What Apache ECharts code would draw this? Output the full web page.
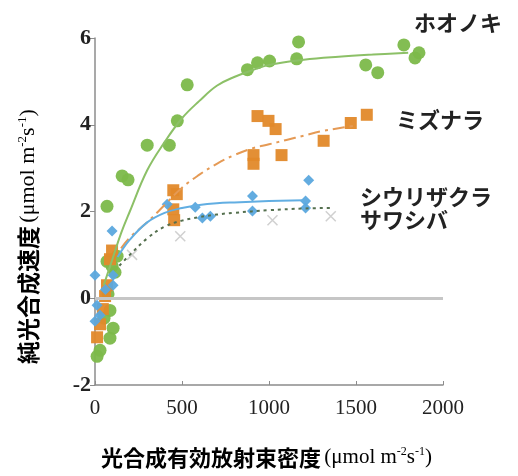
<!DOCTYPE html>
<html>
<head>
<meta charset="utf-8">
<script src="https://cdn.jsdelivr.net/npm/echarts@6/dist/echarts.min.js"></script>
<style>
html,body{margin:0;padding:0;background:#fff;}
#chart{width:518px;height:476px;}
</style>
</head>
<body>
<div id="chart"></div>
<script>
// ---- data ----
const xTicks = [0, 500, 1000, 1500, 2000];
const yTicks = [-2, 0, 2, 4, 6];
const speciesNames = ['ホオノキ', 'ミズナラ', 'シウリザクラ', 'サワシバ'];

// ホオノキ (green circles)
const hoonokiX = [69,156,190,300,427,473,530,876,934,1003,1170,1159,1556,1625,1775,1839,1862,69,127,98,115,86,104,86,29,12,52,75];
const hoonokiY = [2.12,2.82,2.73,3.53,3.53,4.09,4.92,5.27,5.43,5.47,5.91,5.52,5.38,5.2,5.84,5.54,5.66,0.85,0.97,0.74,0.6,-0.28,-0.69,-0.92,-1.2,-1.34,-0.46,0.1];
// ミズナラ (orange squares)
const mizunaraX = [12,29,45,58,69,86,98,450,470,450,455,934,997,1038,911,911,1072,1314,1470,1562];
const mizunaraY = [-0.9,-0.6,-0.25,0.05,0.3,0.9,1.1,2.49,2.4,2.05,1.8,4.2,4.09,3.9,3.3,3.1,3.3,3.63,4.04,4.23];
// シウリザクラ (blue diamonds)
const shiuriX = [98,0,104,104,29,0,12,60,415,576,617,663,905,905,1210,1210,1228];
const shiuriY = [1.55,0.53,0.53,0.3,-0.39,-0.53,-0.16,0.2,2.17,2.1,1.85,1.89,2.36,2.01,2.24,2.08,2.72];
// サワシバ (gray crosses)
const sawashibaX = [213,490,1020,1355];
const sawashibaY = [1.0,1.43,1.8,1.89];

// fitted curves
const hoonokiCurveX = [50,100,150,200,300,400,500,600,700,800,900,1000,1200,1400,1600,1800];
const hoonokiCurveY = [0.3,0.9,1.5,2.0,2.95,3.6,4.15,4.55,4.9,5.1,5.25,5.38,5.5,5.57,5.62,5.66];
const mizunaraCurveX = [150,200,300,400,500,600,700,800,900,1000,1100,1200,1300,1400,1500];
const mizunaraCurveY = [1.15,1.4,1.75,2.15,2.55,2.85,3.1,3.3,3.45,3.55,3.65,3.75,3.85,3.92,3.98];
const shiuriCurveX = [130,200,300,400,500,600,700,800,1000,1200];
const shiuriCurveY = [0.95,1.35,1.75,1.97,2.08,2.15,2.19,2.21,2.24,2.26];
const sawashibaCurveX = [140,200,300,400,500,600,700,800,1000,1200,1350];
const sawashibaCurveY = [0.75,1.0,1.38,1.65,1.79,1.87,1.93,1.97,2.03,2.07,2.08];

const zip = (a, b) => a.map((v, i) => [v, b[i]]);

const chart = echarts.init(document.getElementById('chart'), null, {renderer: 'canvas'});
const serif = 'Liberation Serif';
const jp = 'Noto Sans CJK JP';

const GREEN = '#7cb94a', ORANGE = '#e2892a', BLUE = '#5ba8de', GRAY = '#c4c4c4';

function titleRich(size) {
  return {
    a: {fontFamily: jp, fontWeight: 'bold', fontSize: size, color: '#333'},
    b: {fontFamily: serif, fontSize: size - 1, color: '#333'},
    s: {fontFamily: serif, fontSize: Math.round(size * 0.55), color: '#333', padding: [0, 0, Math.round(size * 0.5), 0]}
  };
}

const option = {
  animation: false,
  backgroundColor: '#fff',
  grid: {left: 95, right: 75, top: 38, bottom: 91, containLabel: false},
  xAxis: {
    type: 'value', min: xTicks[0], max: xTicks[xTicks.length - 1], interval: 500,
    axisLine: {onZero: false, lineStyle: {color: '#8c8c8c', width: 1.5}},
    axisTick: {inside: true, length: 4, lineStyle: {color: '#8c8c8c'}},
    splitLine: {show: false},
    axisLabel: {fontFamily: serif, fontSize: 21, color: '#222', margin: 13, formatter: v => String(v)}
  },
  yAxis: {
    type: 'value', min: yTicks[0], max: yTicks[yTicks.length - 1], interval: 2,
    axisLine: {onZero: false, lineStyle: {color: '#8c8c8c', width: 1.5}},
    axisTick: {inside: false, length: 5, lineStyle: {color: '#8c8c8c'}},
    splitLine: {show: false},
    axisLabel: {fontFamily: serif, fontWeight: 'bold', fontSize: 22, color: '#222', margin: 4, formatter: v => String(v)}
  },
  graphic: [
    {type: 'text', left: 101, top: 446, style: {
      text: '{a|光合成有効放射束密度} {b|(μmol m}{s|-2}{b|s}{s|-1}{b|)}', rich: titleRich(22)}},
    {type: 'text', x: 16, y: 364, rotation: Math.PI / 2, style: {
      text: '{a|純光合成速度} {b|(μmol m}{s|-2}{b|s}{s|-1}{b|)}', rich: titleRich(23)}},
    {type: 'text', left: 414, top: 12, style: {text: speciesNames[0], fontFamily: jp, fontWeight: 'bold', fontSize: 22, fill: '#222'}},
    {type: 'text', left: 396, top: 109, style: {text: speciesNames[1], fontFamily: jp, fontWeight: 'bold', fontSize: 22, fill: '#222'}},
    {type: 'text', left: 360, top: 186, style: {text: speciesNames[2], fontFamily: jp, fontWeight: 'bold', fontSize: 22, fill: '#222'}},
    {type: 'text', left: 360, top: 209, style: {text: speciesNames[3], fontFamily: jp, fontWeight: 'bold', fontSize: 22, fill: '#222'}}
  ],
  series: [
    {type: 'line', data: [], z: 1, silent: true,
     markLine: {silent: true, symbol: 'none', label: {show: false},
       lineStyle: {color: '#c6c6c6', width: 3, type: 'solid'}, data: [{yAxis: 0}]}},
    {name: speciesNames[3], type: 'scatter', data: zip(sawashibaX, sawashibaY), symbol: 'path://M0,0 L10,10 M10,0 L0,10',
     symbolSize: 10, itemStyle: {color: 'none', borderColor: GRAY, borderWidth: 1.5}, z: 2},
    {name: speciesNames[0], type: 'scatter', data: zip(hoonokiX, hoonokiY), symbol: 'circle', symbolSize: 13,
     itemStyle: {color: GREEN, opacity: 0.95}, z: 3},
    {name: speciesNames[1], type: 'scatter', data: zip(mizunaraX, mizunaraY), symbol: 'rect', symbolSize: 12,
     itemStyle: {color: ORANGE, opacity: 0.95}, z: 4},
    {name: speciesNames[2], type: 'scatter', data: zip(shiuriX, shiuriY), symbol: 'diamond', symbolSize: 11,
     itemStyle: {color: BLUE, opacity: 0.95}, z: 5},
    {type: 'line', data: zip(hoonokiCurveX, hoonokiCurveY), smooth: 0.4, showSymbol: false, z: 6,
     lineStyle: {color: '#8cc067', width: 2}},
    {type: 'line', data: zip(mizunaraCurveX, mizunaraCurveY), smooth: 0.4, showSymbol: false, z: 6,
     lineStyle: {color: '#e59a55', width: 2, type: [12, 5, 3, 5]}},
    {type: 'line', data: zip(shiuriCurveX, shiuriCurveY), smooth: 0.4, showSymbol: false, z: 6,
     lineStyle: {color: '#62aee2', width: 2}},
    {type: 'line', data: zip(sawashibaCurveX, sawashibaCurveY), smooth: 0.4, showSymbol: false, z: 6,
     lineStyle: {color: '#55704f', width: 2, type: [3, 4]}}
  ]
};
chart.setOption(option);
</script>
</body>
</html>
